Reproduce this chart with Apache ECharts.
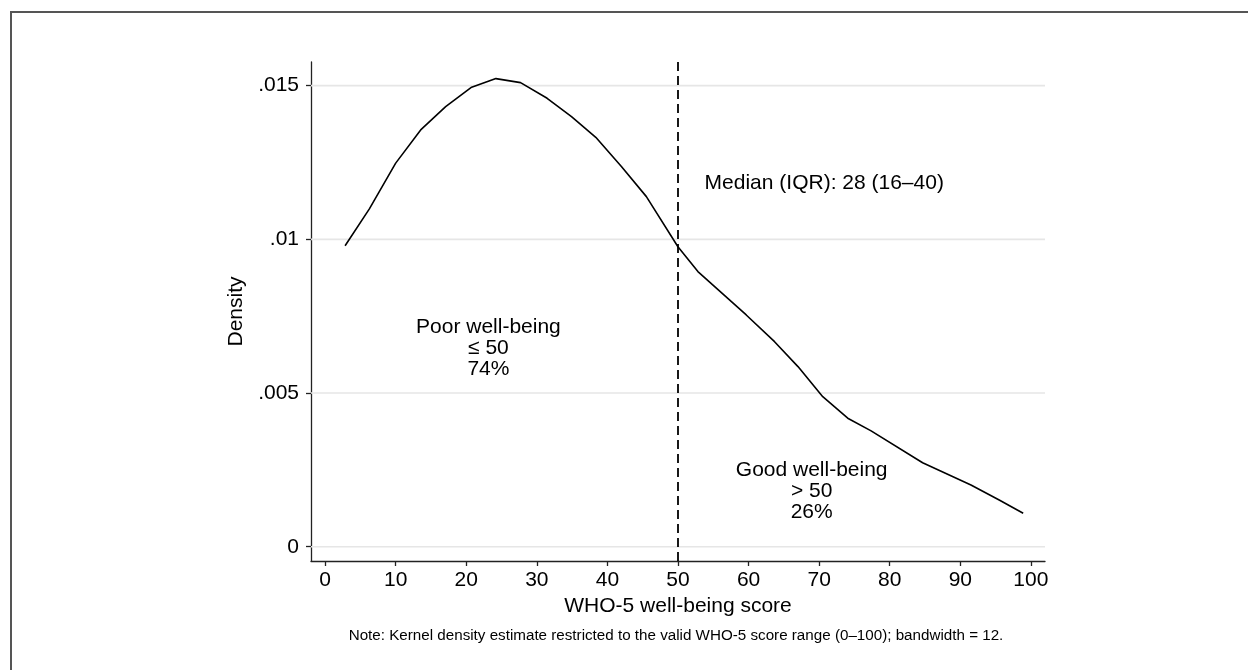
<!DOCTYPE html>
<html>
<head>
<meta charset="utf-8">
<script src="https://cdn.jsdelivr.net/npm/echarts@6/dist/echarts.min.js"></script>
<style>
html,body{margin:0;padding:0;background:#fff;}
#chart{width:1248px;height:670px;}
</style>
</head>
<body>
<div id="chart"></div>
<script>
// WHO-5 well-being score (x) and kernel density estimate (y)
const scoreX = [2.83, 6.27, 10.0, 13.54, 17.08, 20.76, 24.20, 27.69, 31.46, 34.91, 38.35, 41.98, 45.52, 49.99, 52.82, 59.67, 63.68, 67.0, 70.51, 74.05, 77.36, 84.66, 91.51, 95.51, 98.91];
const density = [0.00979, 0.01099, 0.01248, 0.01356, 0.01432, 0.01495, 0.01523, 0.01510, 0.01459, 0.01399, 0.01332, 0.01237, 0.01139, 0.00976, 0.00895, 0.00754, 0.00667, 0.00586, 0.00488, 0.00418, 0.00377, 0.00273, 0.00201, 0.00152, 0.00109];

const xTicks = [0, 10, 20, 30, 40, 50, 60, 70, 80, 90, 100];
const yTicks = [0, 0.005, 0.01, 0.015];
const xRange = [-2, 102];
const yRange = [-0.000465, 0.01577];
const cutoff = 50;

const medianText = ['Median (IQR): 28 (16–40)'];
const medianPos = [53.77, 0.01183];
const poorText = ['Poor well-being', '≤ 50', '74%'];
const poorPos = [23.14, 0.00645];
const goodText = ['Good well-being', '> 50', '26%'];
const goodPos = [68.94, 0.00179];

const xTitle = 'WHO-5 well-being score';
const yTitle = 'Density';
const note = 'Note: Kernel density estimate restricted to the valid WHO-5 score range (0–100); bandwidth = 12.';

const FONT = '"Liberation Sans", Arial, Helvetica, sans-serif';
const TXT = '#000';

const chart = echarts.init(document.getElementById('chart'), null, {renderer: 'canvas'});

const gridSeries = yTicks.map(v => ({
  type: 'line', z: 1, silent: true, showSymbol: false,
  data: [[xRange[0], v], [xRange[1], v]],
  lineStyle: {color: '#e6e6e6', width: 1.6}
}));

const labelBase = {show: true, fontFamily: FONT, fontSize: 21, color: TXT};

const option = {
  backgroundColor: '#ffffff',
  animation: false,
  grid: {left: 311, right: 203, top: 62, bottom: 109, containLabel: false},
  xAxis: {
    type: 'value', min: xRange[0], max: xRange[1],
    name: xTitle, nameLocation: 'middle', nameGap: 32,
    nameTextStyle: {fontFamily: FONT, fontSize: 21, color: TXT},
    axisLine: {show: true, onZero: false, lineStyle: {color: '#222', width: 1.3}},
    axisTick: {show: true, length: 5, customValues: xTicks, lineStyle: {color: '#222', width: 1.3}},
    axisLabel: {customValues: xTicks, fontFamily: FONT, fontSize: 21, color: TXT, margin: 9},
    splitLine: {show: false}
  },
  yAxis: {
    type: 'value', min: yRange[0], max: yRange[1],
    name: yTitle, nameLocation: 'middle', nameGap: 64, nameRotate: 90,
    nameTextStyle: {fontFamily: FONT, fontSize: 21, color: TXT},
    axisLine: {show: true, onZero: false, lineStyle: {color: '#222', width: 1.3}},
    axisTick: {show: true, length: 5, customValues: yTicks, lineStyle: {color: '#222', width: 1.3}},
    axisLabel: {customValues: yTicks, fontFamily: FONT, fontSize: 21, color: TXT, margin: 12,
      formatter: v => v === 0 ? '0' : String(v).replace(/^0/, '')},
    splitLine: {show: false}
  },
  series: gridSeries.concat([
    {
      type: 'line', z: 3,
      data: scoreX.map((x, i) => [x, density[i]]),
      showSymbol: false, smooth: false,
      lineStyle: {color: '#000', width: 1.6},
      markLine: {
        silent: true, symbol: 'none', animation: false,
        label: {show: false},
        lineStyle: {color: '#000', width: 1.8, type: [9, 5]},
        data: [{xAxis: cutoff}]
      }
    },
    {
      type: 'scatter', z: 4, symbolSize: 0, silent: true,
      itemStyle: {color: '#000', opacity: 1},
      data: [
        {value: medianPos, label: Object.assign({}, labelBase, {position: 'right', distance: 0, align: 'left', verticalAlign: 'middle', formatter: medianText.join('\n')})},
        {value: poorPos, label: Object.assign({}, labelBase, {position: 'inside', align: 'center', verticalAlign: 'middle', lineHeight: 21, formatter: poorText.join('\n')})},
        {value: goodPos, label: Object.assign({}, labelBase, {position: 'inside', align: 'center', verticalAlign: 'middle', lineHeight: 21, formatter: goodText.join('\n')})}
      ]
    }
  ]),
  graphic: [
    {type: 'rect', shape: {x: 11, y: 12, width: 1400, height: 1000}, style: {fill: 'none', stroke: '#555', lineWidth: 2}, silent: true, z: 0},
    {type: 'text', x: 676, y: 636, style: {text: note, fontFamily: FONT, fontSize: 15.2, fill: TXT, textAlign: 'center', textVerticalAlign: 'middle'}, silent: true}
  ]
};
chart.setOption(option);
</script>
</body>
</html>
